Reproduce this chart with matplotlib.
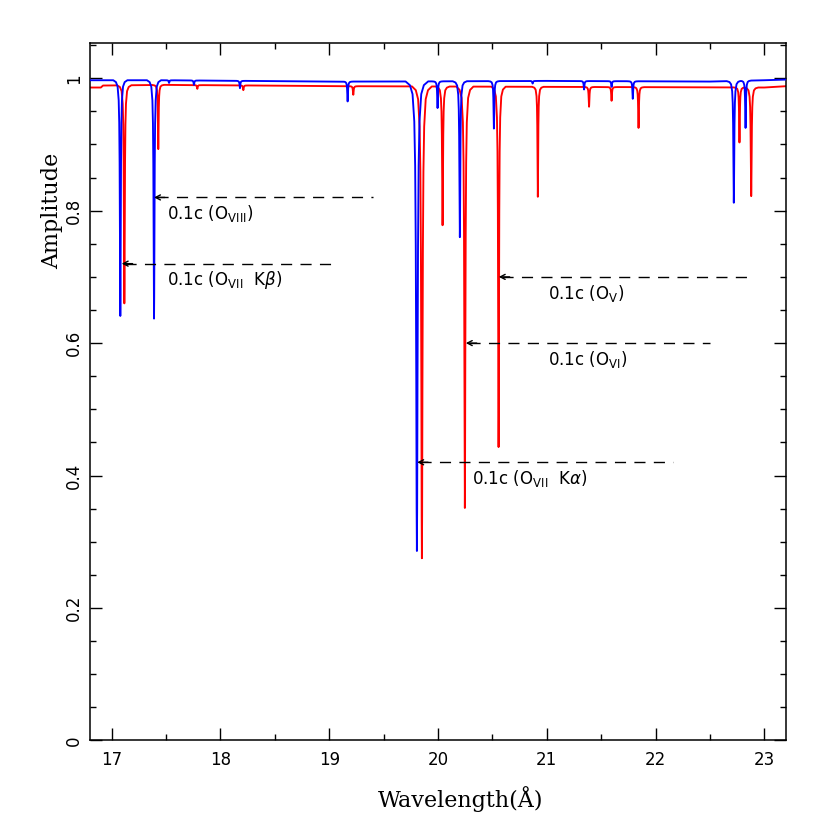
import numpy as np
import matplotlib
matplotlib.use("Agg")
import matplotlib.pyplot as plt
from matplotlib.ticker import MultipleLocator, FuncFormatter

# ---------------- data ----------------
# absorption-line centres (Angstrom), line minima (amplitude), line widths (Angstrom)
blue_centers = [17.079, 17.389, 17.527, 17.756, 18.179, 19.169, 19.806, 19.996,
                20.201, 20.514, 20.870, 21.343, 21.596, 21.791, 22.720, 22.828]
blue_minima = [0.641, 0.637, 0.993, 0.990, 0.985, 0.965, 0.286, 0.955,
               0.760, 0.924, 0.992, 0.983, 0.987, 0.969, 0.812, 0.925]
blue_widths = [0.005, 0.005, 0.004, 0.004, 0.004, 0.004, 0.008, 0.004,
               0.005, 0.004, 0.004, 0.004, 0.004, 0.004, 0.005, 0.004]

red_centers = [17.116, 17.428, 17.787, 18.210, 19.221, 19.852, 20.042, 20.247,
               20.557, 20.918, 21.389, 21.596, 21.844, 22.772, 22.880]
red_minima = [0.660, 0.893, 0.984, 0.982, 0.975, 0.275, 0.778, 0.351,
              0.443, 0.821, 0.957, 0.966, 0.925, 0.903, 0.822]
red_widths = [0.005, 0.004, 0.004, 0.004, 0.004, 0.007, 0.005, 0.006,
              0.005, 0.004, 0.004, 0.004, 0.004, 0.004, 0.005]

# continuum levels
blue_cont_wave = [16.80, 17.50, 19.00, 19.50, 21.00, 22.50, 23.00, 23.20]
blue_cont_amp = [0.997, 0.997, 0.995, 0.995, 0.996, 0.995, 0.997, 0.998]
red_cont_wave = [16.80, 16.90, 16.92, 17.50, 19.20, 21.00, 23.00, 23.20]
red_cont_amp = [0.986, 0.986, 0.989, 0.990, 0.988, 0.987, 0.986, 0.988]

# annotations: arrow tip wavelength, level, dash end, label position and text
ann_tip = [17.389, 17.092, 20.559, 20.256, 19.809]
ann_level = [0.82, 0.72, 0.70, 0.60, 0.42]
ann_end = [19.40, 19.02, 22.90, 22.50, 22.16]
ann_text_x = [17.505, 17.505, 21.007, 21.007, 20.31]
ann_text_y = [0.796, 0.695, 0.675, 0.5755, 0.396]
ann_labels = [r'0.1c (O$_{\rm VIII}$)', r'0.1c (O$_{\rm VII}$  K$\beta$)',
              r'0.1c (O$_{\rm V}$)', r'0.1c (O$_{\rm VI}$)',
              r'0.1c (O$_{\rm VII}$  K$\alpha$)']

# ---------------- line-shape template (style) ----------------
PROFILE_K = np.array([-13, -8, -5, -3, -2, -1.3, -0.7, -0.3, 0, 0.3, 0.7, 1.3, 2, 3, 5, 8, 13])
PROFILE_F = np.array([0.0, 0.008, 0.027, 0.085, 0.18, 0.35, 0.64, 0.91, 1.0,
                      0.91, 0.64, 0.35, 0.18, 0.085, 0.027, 0.008, 0.0])


def spectrum(centers, minima, widths, cw, ca):
    xs = [np.asarray(cw, float)]
    for c, w in zip(centers, widths):
        xs.append(c + w * PROFILE_K)
    x = np.unique(np.concatenate(xs))
    y = np.interp(x, cw, ca)
    for c, m, w in zip(centers, minima, widths):
        d = np.interp(c, cw, ca) - m
        y -= d * np.interp(x, c + w * PROFILE_K, PROFILE_F, left=0, right=0)
    return x, y


fig = plt.figure(figsize=(8.3, 8.3), dpi=100)
ax = fig.add_axes([0.1084, 0.108, 0.8386, 0.840])

xr, yr = spectrum(red_centers, red_minima, red_widths, red_cont_wave, red_cont_amp)
xb, yb = spectrum(blue_centers, blue_minima, blue_widths, blue_cont_wave, blue_cont_amp)
ax.plot(xr, yr, color='#ff0000', lw=1.35, zorder=2)
ax.plot(xb, yb, color='#0000ff', lw=1.35, zorder=3)

for tip, lev, end, tx, ty, lab in zip(ann_tip, ann_level, ann_end, ann_text_x, ann_text_y, ann_labels):
    ax.plot([tip + 0.03, end], [lev, lev], color='black', lw=1.0,
            linestyle=(0, (8, 6)), zorder=4)
    ax.annotate('', xy=(tip, lev), xytext=(tip + 0.1, lev),
                arrowprops=dict(arrowstyle='->,head_length=0.35,head_width=0.18',
                                color='black', lw=1.0, shrinkA=0, shrinkB=0), zorder=5)
    ax.text(tx, ty, lab, fontsize=12, ha='left', va='center', family='DejaVu Sans')

ax.set_xlim(16.8, 23.2)
ax.set_ylim(0, 1.053)
ax.xaxis.set_major_locator(MultipleLocator(1))
ax.xaxis.set_minor_locator(MultipleLocator(0.5))
ax.yaxis.set_major_locator(MultipleLocator(0.2))
ax.yaxis.set_minor_locator(MultipleLocator(0.05))
ax.yaxis.set_major_formatter(FuncFormatter(lambda v, p: '%g' % round(v, 2)))
ax.tick_params(which='both', direction='in', top=True, right=True, width=1.0)
ax.tick_params(which='major', length=8.5)
ax.tick_params(which='minor', length=4.3)
ax.tick_params(axis='x', which='major', pad=8, labelsize=12)
ax.tick_params(axis='y', which='major', pad=5, labelsize=12, labelrotation=90)
for lab in ax.get_yticklabels():
    lab.set_va('center')
for lab in ax.get_xticklabels() + ax.get_yticklabels():
    lab.set_family('DejaVu Sans')
for s in ax.spines.values():
    s.set_linewidth(1.1)

ax.set_xlabel('Wavelength(Å)', family='DejaVu Serif', fontsize=16)
ax.set_ylabel('Amplitude', family='DejaVu Serif', fontsize=16)
ax.xaxis.set_label_coords(0.533, -0.066)
ax.yaxis.set_label_coords(-0.039, 0.76)

fig.savefig('out.png', dpi=100)
